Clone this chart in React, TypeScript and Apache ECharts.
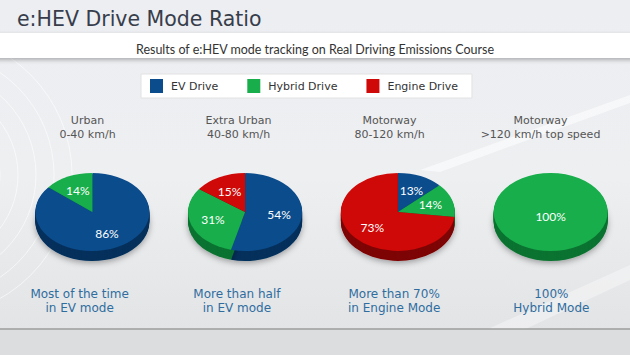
import React, { useEffect, useRef } from 'react';
import * as echarts from 'echarts';

const categories = ['Urban', 'Extra Urban', 'Motorway', 'Motorway'];
const speedRanges = ['0-40 km/h', '40-80 km/h', '80-120 km/h', '>120 km/h top speed'];
const captions = [
  'Most of the time\nin EV mode',
  'More than half\nin EV mode',
  'More than 70%\nin Engine Mode',
  '100%\nHybrid Mode',
];
const modes = ['EV Drive', 'Hybrid Drive', 'Engine Drive'];
const evDrive = [86, 54, 13, 0];
const hybridDrive = [14, 31, 14, 100];
const engineDrive = [0, 15, 73, 0];

const titleText = 'e:HEV Drive Mode Ratio';
const subtitleText = 'Results of e:HEV mode tracking on Real Driving Emissions Course';

const topColors = ['#0b4c8c', '#17ae4b', '#cf0808'];
const sideColors = ['#06305c', '#0b7331', '#7e0505'];

const RX = 57;
const RY = 39;
const DEPTH = 10;

export default function App() {
  const ref = useRef<HTMLDivElement>(null);

  useEffect(() => {
    if (!ref.current) return;
    const chart = echarts.init(ref.current, undefined, { renderer: 'svg' });
    const modeValues = [evDrive, hybridDrive, engineDrive];

    const seriesData = modeValues.map((vals, mi) =>
      vals.map((v, ci) => {
        let start = 0;
        for (let k = 0; k < mi; k++) start += modeValues[k][ci];
        return [ci, start, v];
      })
    );

    const makeRender = (mi: number, side: boolean) => (params: any, api: any) => {
      const idx = api.value(0);
      const start = api.value(1);
      const val = api.value(2);
      if (!val) return { type: 'group', children: [] };
      const c = api.coord([idx, 0.5]);
      const cx = c[0];
      const cy = c[1];
      const a0 = -Math.PI / 2 + (start / 100) * Math.PI * 2;
      const a1 = a0 + (val / 100) * Math.PI * 2;
      const sy = RY / RX;
      const sector = (fill: string, extra: any = {}) => ({
        type: 'sector',
        shape: { cx: 0, cy: 0, r: RX, r0: 0, startAngle: a0, endAngle: a1, clockwise: true },
        style: { fill, ...extra },
        silent: true,
      });
      if (side) {
        const children: any[] = [];
        for (let d = DEPTH; d >= 1; d--) {
          children.push({
            type: 'group',
            x: cx,
            y: cy + d,
            scaleY: sy,
            children: [
              sector(
                sideColors[mi],
                d === DEPTH
                  ? { shadowColor: 'rgba(0,0,0,0.35)', shadowBlur: 6, shadowOffsetY: 2 }
                  : {}
              ),
            ],
          });
        }
        return { type: 'group', children };
      }
      const mid = (a0 + a1) / 2;
      const f = val >= 100 ? 0 : 0.6;
      const lx = cx + Math.cos(mid) * RX * f;
      const ly = cy + Math.sin(mid) * RY * f + (val >= 100 ? 4 : 0);
      return {
        type: 'group',
        children: [
          {
            type: 'group',
            x: cx,
            y: cy,
            scaleY: sy,
            children: [sector(topColors[mi])],
          },
          {
            type: 'text',
            x: lx,
            y: ly,
            silent: true,
            style: {
              text: val + '%',
              fill: '#ffffff',
              font: '12px Lato',
              align: 'center',
              verticalAlign: 'middle',
            },
          },
        ],
      };
    };

    const series: any[] = [];
    modes.forEach((name, mi) => {
      series.push({
        type: 'custom',
        name,
        xAxisIndex: 0,
        yAxisIndex: 0,
        z: 2,
        itemStyle: { color: topColors[mi] },
        renderItem: makeRender(mi, true),
        data: seriesData[mi],
      });
    });
    modes.forEach((name, mi) => {
      series.push({
        type: 'custom',
        name,
        xAxisIndex: 0,
        yAxisIndex: 0,
        z: 3,
        itemStyle: { color: topColors[mi] },
        renderItem: makeRender(mi, false),
        data: seriesData[mi],
      });
    });

    const hiddenAxis = {
      axisLine: { show: false },
      axisTick: { show: false },
      splitLine: { show: false },
    };

    const arcs = [70, 88, 106, 124, 142].map((r) => ({
      type: 'arc',
      shape: { cx: -70, cy: 175, r, startAngle: -Math.PI / 2, endAngle: Math.PI / 2 },
      style: { stroke: 'rgba(255,255,255,0.6)', lineWidth: 1, fill: 'none' },
      silent: true,
      z: 0,
    }));

    chart.setOption({
      animation: false,
      backgroundColor: {
        type: 'linear',
        x: 0,
        y: 0,
        x2: 0,
        y2: 1,
        colorStops: [
          { offset: 0, color: '#eceef2' },
          { offset: 0.5, color: '#eeeff1' },
          { offset: 1, color: '#e1e2e4' },
        ],
      },
      graphic: [
        ...arcs,
        {
          type: 'polygon',
          shape: { points: [[420, 170], [630, 95], [630, 103], [440, 172]] },
          style: { fill: 'rgba(255,255,255,0.55)' },
          silent: true,
          z: 0,
        },
        {
          type: 'polygon',
          shape: { points: [[430, 355], [630, 265], [630, 280], [470, 355]] },
          style: { fill: 'rgba(255,255,255,0.35)' },
          silent: true,
          z: 0,
        },
        {
          type: 'rect',
          shape: { x: 0, y: 329, width: 630, height: 26 },
          style: { fill: '#dcdddf' },
          silent: true,
          z: 0,
        },
        {
          type: 'line',
          shape: { x1: 0, y1: 329, x2: 630, y2: 329 },
          style: { stroke: '#9c9c9c', lineWidth: 1.5 },
          silent: true,
          z: 1,
        },
        {
          type: 'rect',
          shape: { x: -10, y: 33, width: 650, height: 25 },
          style: {
            fill: '#ffffff',
            shadowColor: 'rgba(0,0,0,0.28)',
            shadowBlur: 4,
            shadowOffsetY: 2,
          },
          silent: true,
          z: 1,
        },
      ],
      title: [
        {
          text: titleText,
          left: 12,
          top: 3,
          textStyle: {
            fontFamily: 'DejaVu Sans',
            fontSize: 20.5,
            fontWeight: 'normal',
            color: '#373d4b',
          },
        },
        {
          text: subtitleText,
          left: 'center',
          top: 38,
          textStyle: {
            fontFamily: 'Lato',
            fontSize: 12.5,
            fontWeight: 'normal',
            color: '#333333',
          },
        },
      ],
      legend: {
        data: modes,
        left: 141,
        top: 74,
        icon: 'rect',
        itemWidth: 13,
        itemHeight: 14,
        itemGap: 29,
        selectedMode: false,
        backgroundColor: '#ffffff',
        borderColor: '#e2e2e2',
        borderWidth: 1,
        padding: [5, 14, 5, 9],
        textStyle: { fontFamily: 'DejaVu Sans', fontSize: 11, color: '#333333', padding: [0, 0, 0, 3] },
      },
      grid: [
        { left: 16, width: 611, top: 150, height: 124 },
        { left: 12, width: 604, top: 150, height: 10 },
        { left: 1, width: 636, top: 264, height: 10 },
      ],
      xAxis: [
        { type: 'category', gridIndex: 0, data: categories, ...hiddenAxis, axisLabel: { show: false } },
        {
          type: 'category',
          gridIndex: 1,
          position: 'top',
          data: categories,
          ...hiddenAxis,
          axisLabel: {
            margin: 9,
            interval: 0,
            formatter: (v: string, i: number) => `${v}\n${speedRanges[i]}`,
            fontFamily: 'DejaVu Sans',
            fontSize: 11,
            lineHeight: 14,
            color: '#555555',
          },
        },
        {
          type: 'category',
          gridIndex: 2,
          position: 'bottom',
          data: captions,
          ...hiddenAxis,
          axisLabel: {
            margin: 13,
            interval: 0,
            fontFamily: 'DejaVu Sans',
            fontSize: 12,
            lineHeight: 14,
            color: '#2f6d9f',
          },
        },
      ],
      yAxis: [
        { type: 'value', gridIndex: 0, min: 0, max: 1, show: false },
        { type: 'value', gridIndex: 1, min: 0, max: 1, show: false },
        { type: 'value', gridIndex: 2, min: 0, max: 1, show: false },
      ],
      series,
    });

    return () => chart.dispose();
  }, []);

  return (
    <div
      ref={ref}
      style={{ position: 'fixed', left: 0, top: 0, width: 630, height: 355 }}
    />
  );
}
